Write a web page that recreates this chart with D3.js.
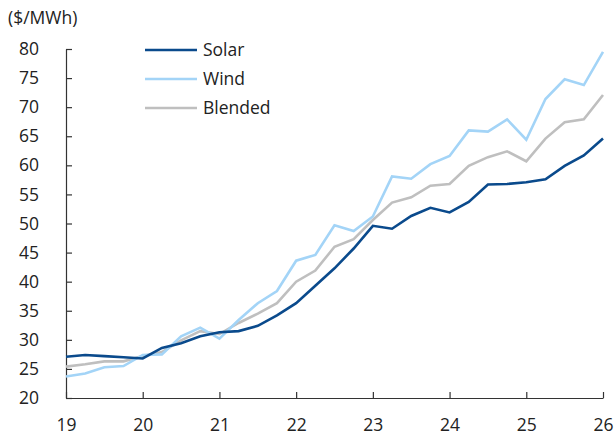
<!DOCTYPE html>
<html>
<head>
<meta charset="utf-8">
<script src="https://cdn.jsdelivr.net/npm/d3@7"></script>
<style>
  body { margin: 0; background: #fff; }
  text { font-family: "Open Sans", "Noto Sans", sans-serif; fill: #222; }
</style>
</head>
<body>
<div id="chart"></div>
<script>
// quarters 19Q1 .. 26Q1
let quarters = [
    "19Q1", "19Q2", "19Q3", "19Q4",
    "20Q1", "20Q2", "20Q3", "20Q4",
    "21Q1", "21Q2", "21Q3", "21Q4",
    "22Q1", "22Q2", "22Q3", "22Q4",
    "23Q1", "23Q2", "23Q3", "23Q4",
    "24Q1", "24Q2", "24Q3", "24Q4",
    "25Q1", "25Q2", "25Q3", "25Q4",
    "26Q1"
];

let solar = [
    27.1, 27.4, 27.2, 27.0,
    26.8, 28.6, 29.4, 30.6,
    31.3, 31.5, 32.4, 34.2,
    36.3, 39.3, 42.3, 45.7,
    49.6, 49.1, 51.3, 52.7,
    51.9, 53.7, 56.7, 56.8,
    57.1, 57.6, 59.9, 61.7,
    64.6
];

let wind = [
    23.7, 24.2, 25.3, 25.5,
    27.4, 27.5, 30.6, 32.1,
    30.2, 33.4, 36.3, 38.4,
    43.6, 44.6, 49.7, 48.7,
    51.2, 58.1, 57.7, 60.2,
    61.6, 66.0, 65.8, 67.9,
    64.4, 71.4, 74.8, 73.8,
    79.5
];

let blended = [
    25.4, 25.8, 26.3, 26.3,
    27.2, 27.9, 29.9, 31.5,
    31.0, 32.9, 34.5, 36.3,
    40.0, 41.9, 46.0, 47.3,
    50.6, 53.6, 54.5, 56.5,
    56.8, 59.9, 61.4, 62.4,
    60.7, 64.6, 67.4, 67.9,
    72.1
];

let yearTicks = [19, 20, 21, 22, 23, 24, 25, 26];
let valueTicks = [20, 25, 30, 35, 40, 45, 50, 55, 60, 65, 70, 75, 80];

let seriesNames = ["Solar", "Wind", "Blended"];
let seriesValues = [solar, wind, blended];
let seriesColors = ["#0a4a8c", "#a3d4f7", "#bfbfbf"];

let width = 616;
let height = 436;
var margin = { top: 49, right: 13, bottom: 38, left: 66 };
var fontSize = "17.5px";

var svg = d3.select("#chart")
    .append("svg")
    .attr("width", width)
    .attr("height", height);

// position of a quarter label on the year axis
function quarterPos(q) {
    return +q.slice(0, 2) + (+q.slice(3) - 1) / 4;
}

var x = d3.scaleLinear()
    .domain([19, 26])
    .range([margin.left, width - margin.right]);

var y = d3.scaleLinear()
    .domain([20, 80])
    .range([height - margin.bottom, margin.top]);

// x axis, ticks pointing up
svg.append("g")
    .attr("transform", "translate(0," + (height - margin.bottom) + ")")
    .call(d3.axisBottom(x)
        .tickValues(yearTicks)
        .tickFormat(d3.format("d"))
        .tickSizeInner(-6)
        .tickSizeOuter(0)
        .tickPadding(21));

// y axis, ticks pointing right
svg.append("g")
    .attr("transform", "translate(" + margin.left + ",0)")
    .call(d3.axisLeft(y)
        .tickValues(valueTicks)
        .tickSizeInner(-6)
        .tickSizeOuter(0)
        .tickPadding(27));

svg.selectAll(".domain, .tick line")
    .attr("stroke", "#333")
    .attr("stroke-width", 1.2);
svg.selectAll(".tick text")
    .style("font-size", fontSize)
    .attr("fill", "#222");

svg.append("text")
    .attr("x", 8)
    .attr("y", 24)
    .style("font-size", fontSize)
    .text("($/MWh)");

var line = d3.line()
    .x(function (d, i) { return x(quarterPos(quarters[i])); })
    .y(function (d) { return y(d); });

// draw solar last so it sits on top
var drawOrder = [2, 1, 0];
drawOrder.forEach(function (k) {
    svg.append("path")
        .datum(seriesValues[k])
        .attr("fill", "none")
        .attr("stroke", seriesColors[k])
        .attr("stroke-width", 2.6)
        .attr("stroke-linejoin", "miter")
        .attr("d", line);
});

// legend
var legend = svg.append("g");
seriesNames.forEach(function (name, i) {
    var ly = 50 + i * 29;
    legend.append("line")
        .attr("x1", 145).attr("x2", 197)
        .attr("y1", ly).attr("y2", ly)
        .attr("stroke", seriesColors[i])
        .attr("stroke-width", 2.6);
    legend.append("text")
        .attr("x", 203)
        .attr("y", ly)
        .attr("dy", "0.35em")
        .style("font-size", fontSize)
        .text(name);
});
</script>
</body>
</html>
